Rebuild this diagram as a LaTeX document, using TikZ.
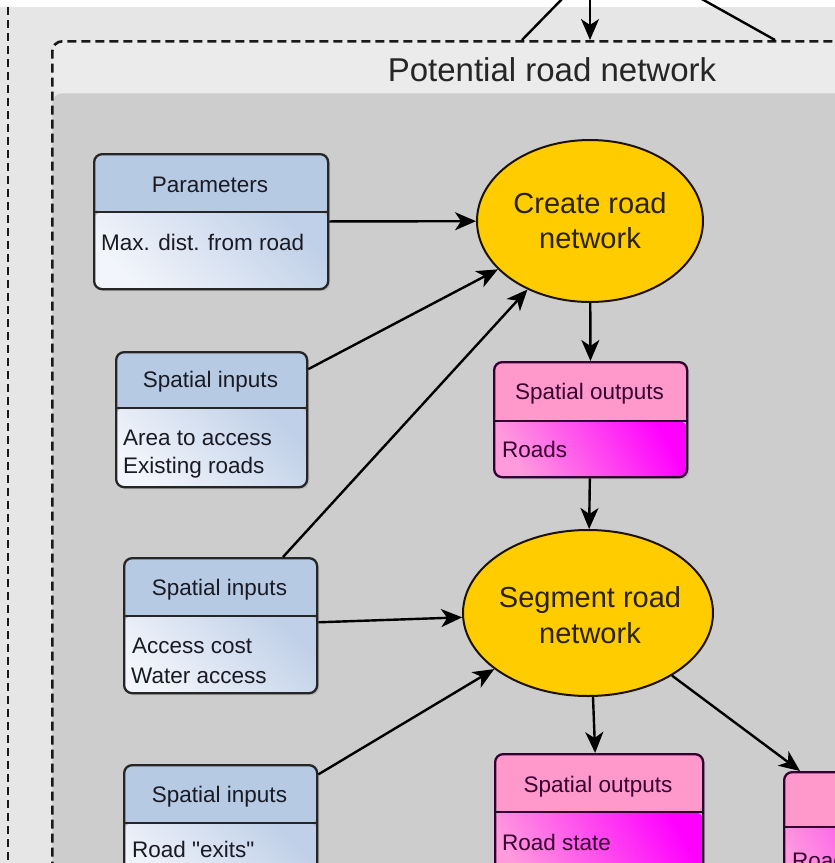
\documentclass[tikz,border=0pt]{standalone}
\usepackage{fontspec}
\setmainfont{Liberation Sans}
% family without the TeX quote mapping, so that " stays straight
\newfontfamily\plainsans{Liberation Sans}
\usetikzlibrary{arrows.meta,shapes.geometric,shadows}

\definecolor{outerbg}{HTML}{E6E6E6}
\definecolor{grouphead}{HTML}{EBEBEB}
\definecolor{groupbody}{HTML}{CDCDCD}
\definecolor{inhead}{HTML}{B6CAE4}
\definecolor{inlight}{HTML}{F2F5FB}
\definecolor{indark}{HTML}{C0D0E8}
\definecolor{outhead}{HTML}{FF99CC}
\definecolor{outlight}{HTML}{FF9ADD}
\definecolor{outdark}{HTML}{FF00FF}
\definecolor{procfill}{HTML}{FFCC00}
\definecolor{intext}{HTML}{1A1A24}
\definecolor{outtext}{HTML}{360030}
\definecolor{proctext}{HTML}{2B2200}

\tikzset{
  x=1pt, y=-1pt,
  arr/.style={draw=black, line width=2.4pt, -{Stealth[length=21pt,width=18pt,inset=6pt]}},
  link/.style={draw=black, line width=2.4pt},
  headh/.store in=\headh, headh=58pt,
  block/.style={rectangle, rounded corners=8pt, draw=black!85, line width=2.3pt,
    inner sep=0pt, anchor=north west,
    drop shadow={shadow xshift=2pt, shadow yshift=-2pt, opacity=0.25}},
  inbox/.style={block, path picture={
    \fill[inhead] (path picture bounding box.north west) rectangle
      ([yshift=-\headh]path picture bounding box.north east);
    \shade[top color=indark, bottom color=inlight, shading angle=-45]
      ([yshift=-\headh]path picture bounding box.north west) rectangle
      (path picture bounding box.south east);
    \draw[line width=2.3pt, black!85]
      ([yshift=-\headh]path picture bounding box.north west) --
      ([yshift=-\headh]path picture bounding box.north east);}},
  outbox/.style={block, draw=black!80!outdark, path picture={
    \fill[outhead] (path picture bounding box.north west) rectangle
      ([yshift=-\headh]path picture bounding box.north east);
    \shade[top color=outdark, bottom color=outlight, shading angle=-60]
      ([yshift=-\headh]path picture bounding box.north west) rectangle
      (path picture bounding box.south east);
    \draw[line width=2.3pt, black!80!outdark]
      ([yshift=-\headh]path picture bounding box.north west) --
      ([yshift=-\headh]path picture bounding box.north east);}},
  process/.style={ellipse, draw=black!85!brown, line width=2pt, fill=procfill, inner sep=0pt},
  intxt/.style={inner sep=0pt, text=intext, font=\plainsans\fontsize{22.5}{27}\selectfont},
  outtxt/.style={inner sep=0pt, text=outtext, font=\plainsans\fontsize{22.5}{27}\selectfont},
  proctxt/.style={inner sep=0pt, text=proctext, align=center,
    font=\plainsans\fontsize{29}{35}\selectfont},
}

\begin{document}
\begin{tikzpicture}
\useasboundingbox (0,0) rectangle (835,863);
\clip (0,0) rectangle (835,863);

% surrounding group
\fill[white] (0,0) rectangle (835,863);
\fill[outerbg] (0,7) rectangle (835,863);
\draw[black!90, line width=2.6pt, dash pattern=on 8pt off 5pt] (8,7) -- (8,870);

% group: potential road network
\node[draw=black!90, line width=2.6pt, dash pattern=on 9pt off 5pt,
      rounded corners=10pt, minimum width=1000pt, minimum height=1000pt,
      anchor=north west, inner sep=0pt,
      path picture={
        \fill[grouphead] (path picture bounding box.north west) rectangle
          ([yshift=-52pt]path picture bounding box.north east);
        \fill[groupbody] ([yshift=-52pt]path picture bounding box.north west) rectangle
          (path picture bounding box.south east);}]
  (prn) at (51,40) {};
\node[inner sep=0pt, anchor=base, text=black!85, font=\plainsans\fontsize{33}{40}\selectfont]
  (prntitle) at (552,81) {Potential road network};

% incoming links from above
\coordinate (in1) at (590,-2);
\coordinate (la) at (563,-2);
\coordinate (lb) at (522,40);
\coordinate (lc) at (700,-2);
\coordinate (ld) at (775,40);
\draw[link] (la) -- (lb);
\draw[link] (lc) -- (ld);
\draw[arr] (in1) -- (in1 |- prn.north);

% inputs
\node[inbox, headh=58pt, minimum width=234pt, minimum height=135pt] (param) at (93,153) {};
\node[intxt, anchor=base] (param-t) at (210,192) {Parameters};
\node[intxt, anchor=base west] (param-b) at (101,250) {Max. dist. from road};

\node[inbox, headh=56pt, minimum width=191pt, minimum height=135pt] (si1) at (115,351) {};
\node[intxt, anchor=base] (si1-t) at (210.5,387) {Spatial inputs};
\node[intxt, anchor=base west] (si1-a) at (123,445) {Area to access};
\node[intxt, anchor=base west] (si1-b) at (123,473) {Existing roads};

\node[inbox, headh=58pt, minimum width=193pt, minimum height=135pt] (si2) at (123,557) {};
\node[intxt, anchor=base] (si2-t) at (219.5,595) {Spatial inputs};
\node[intxt, anchor=base west] (si2-a) at (132,653) {Access cost};
\node[intxt, anchor=base west] (si2-b) at (131,683) {Water access};

\node[inbox, headh=58pt, minimum width=193pt, minimum height=135pt] (si3) at (123,764) {};
\node[intxt, anchor=base] (si3-t) at (219.5,802) {Spatial inputs};
\node[intxt, anchor=base west] (si3-a) at (132,857) {Road "exits"};

% processes
\node[process, minimum width=226pt, minimum height=162pt] (create) at (590,221) {};
\node[proctxt, anchor=base] (create-a) at (590,213) {Create road};
\node[proctxt, anchor=base] (create-b) at (590,248) {network};

\node[process, minimum width=250pt, minimum height=166pt] (seg) at (588,613) {};
\node[proctxt, anchor=base] (seg-a) at (590,607) {Segment road};
\node[proctxt, anchor=base] (seg-b) at (590,643) {network};

% outputs
\node[outbox, headh=59pt, minimum width=193pt, minimum height=115pt] (out1) at (493,361) {};
\node[outtxt, anchor=base] (out1-t) at (589.5,399) {Spatial outputs};
\node[outtxt, anchor=base west] (out1-a) at (502,457) {Roads};

\node[outbox, headh=58pt, minimum width=208pt, minimum height=135pt] (out2) at (494,753) {};
\node[outtxt, anchor=base] (out2-t) at (598,792) {Spatial outputs};
\node[outtxt, anchor=base west] (out2-a) at (502,850) {Road state};

\node[outbox, headh=55pt, minimum width=220pt, minimum height=135pt] (out3) at (783,771) {};
\node[outtxt, anchor=base west] (out3-a) at (792,868) {Road};

% connectors
\draw[arr] (param) -- (create);
\draw[arr] (si1) -- (create);
\draw[arr] (si2) -- (create);
\draw[arr] (create) -- (out1);
\draw[arr] (out1) -- (seg);
\draw[arr] (si2) -- (seg);
\draw[arr] (si3) -- (seg);
\draw[arr] ([xshift=5pt]seg.south) -- ([xshift=-4pt]out2.north);
\draw[arr] (seg) -- ([xshift=17pt]out3.north west);
\end{tikzpicture}
\end{document}
